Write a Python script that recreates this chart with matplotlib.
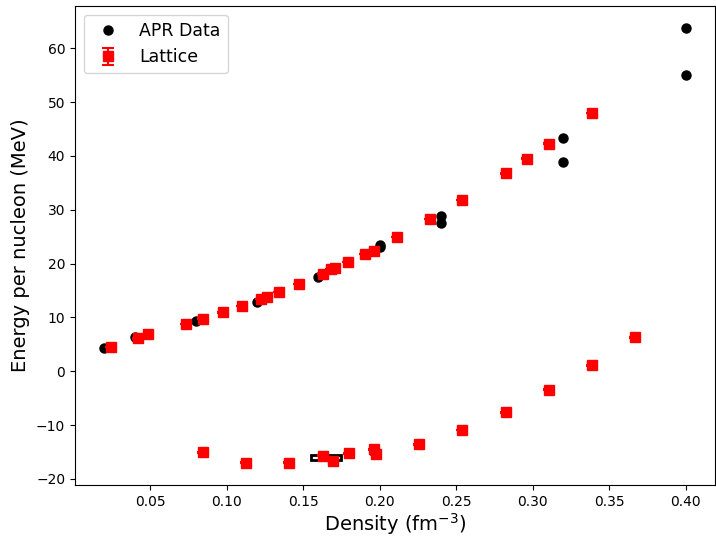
import matplotlib
matplotlib.use("Agg")
import matplotlib.pyplot as plt
from matplotlib.patches import Rectangle
import numpy as np

# APR equation-of-state reference values
apr_density = [0.02, 0.04, 0.08, 0.12, 0.16, 0.20, 0.20, 0.24, 0.24, 0.32, 0.32, 0.40, 0.40]
apr_energy = [4.4, 6.35, 9.35, 12.9, 17.6, 23.0, 23.5, 28.9, 27.5, 43.3, 38.8, 63.8, 55.0]

# Lattice results: neutron matter branch
pnm_density = [0.0245, 0.0424, 0.049, 0.0735, 0.0845, 0.098, 0.110, 0.1225, 0.1265,
               0.1345, 0.147, 0.163, 0.168, 0.171, 0.1795, 0.1905, 0.196, 0.2115,
               0.233, 0.254, 0.2825, 0.296, 0.3105, 0.3385]
pnm_energy = [4.55, 6.1, 6.85, 8.75, 9.8, 10.95, 12.15, 13.4, 13.85,
              14.7, 16.25, 18.1, 19.0, 19.2, 20.3, 21.8, 22.4, 24.9,
              28.25, 31.8, 36.75, 39.5, 42.3, 47.95]
pnm_error = [0.05] * len(pnm_energy)

# Lattice results: symmetric nuclear matter branch
snm_density = [0.0848, 0.1128, 0.141, 0.163, 0.1695, 0.180, 0.196, 0.1975,
               0.226, 0.254, 0.2825, 0.3105, 0.3385, 0.367]
snm_energy = [-15.05, -16.95, -17.0, -15.7, -16.6, -15.25, -14.5, -15.4,
              -13.6, -10.9, -7.65, -3.45, 1.15, 6.3]
snm_error = [0.08] * len(snm_energy)

# Empirical saturation region (density range, energy range)
sat_density = (0.155, 0.175)
sat_energy = (-16.5, -15.5)

fig = plt.figure(figsize=(7.16, 5.38), dpi=100)
ax = fig.add_axes([0.1047, 0.0985, 0.8939, 0.8903])

ax.add_patch(Rectangle((sat_density[0], sat_energy[0]),
                       sat_density[1] - sat_density[0],
                       sat_energy[1] - sat_energy[0],
                       fill=False, edgecolor="black", linewidth=2, zorder=1))

ax.plot(apr_density, apr_energy, "o", color="black", markersize=6.5,
        label="APR Data", zorder=2)

lat_density = np.concatenate([pnm_density, snm_density])
lat_energy = np.concatenate([pnm_energy, snm_energy])
lat_error = np.concatenate([pnm_error, snm_error])
ax.errorbar(lat_density, lat_energy, yerr=lat_error, fmt="s", color="red",
            markersize=7, capsize=4, elinewidth=1.5, capthick=1.5,
            label="Lattice", zorder=3)

ax.set_xlabel("Density (fm$^{-3}$)", fontsize=14, labelpad=2)
ax.set_ylabel("Energy per nucleon (MeV)", fontsize=14)
ax.tick_params(labelsize=10)
ax.legend(loc="upper left", fontsize=12.5)

fig.savefig("out.png", dpi=100)
